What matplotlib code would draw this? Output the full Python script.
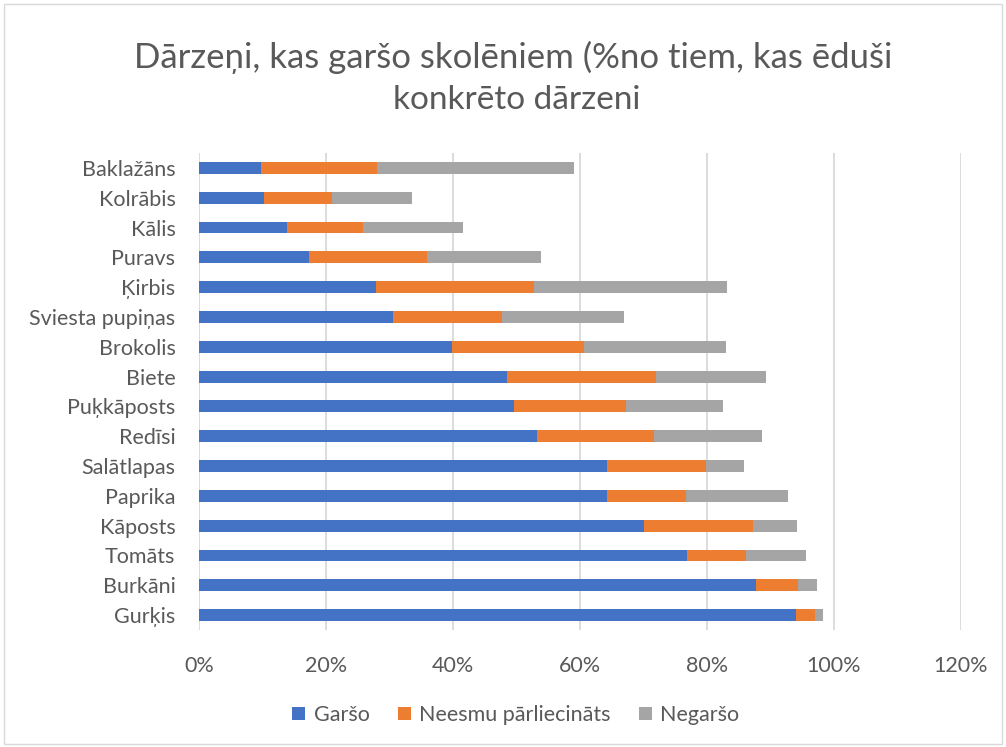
import numpy as np
import matplotlib.pyplot as plt
from matplotlib.patches import Rectangle

categories = ['Baklažāns', 'Kolrābis', 'Kālis', 'Puravs', 'Ķirbis', 'Sviesta pupiņas',
              'Brokolis', 'Biete', 'Puķkāposts', 'Redīsi', 'Salātlapas', 'Paprika',
              'Kāposts', 'Tomāts', 'Burkāni', 'Gurķis']
garso = [9.8, 10.3, 13.9, 17.3, 27.9, 30.6, 39.8, 48.5, 49.6, 53.2, 64.2, 64.2, 70.1, 76.9, 87.7, 94.0]
neesmu = [18.2, 10.7, 11.9, 18.6, 24.9, 17.1, 20.9, 23.5, 17.7, 18.4, 15.6, 12.5, 17.1, 9.3, 6.6, 3.0]
negarso = [31.1, 12.6, 15.7, 18.0, 30.3, 19.2, 22.3, 17.3, 15.2, 17.0, 6.0, 16.1, 7.0, 9.4, 3.0, 1.2]
series_names = ['Garšo', 'Neesmu pārliecināts', 'Negaršo']
colors = ['#4472c4', '#ed7d31', '#a5a5a5']
ticks = [0, 20, 40, 60, 80, 100, 120]

plt.rcParams['font.family'] = ['Lato', 'DejaVu Sans']

fig = plt.figure(figsize=(10.06, 7.47), dpi=100)
ax = fig.add_axes([199 / 1006, 1 - 630 / 747, (961 - 199) / 1006, (630 - 153) / 747])

y = np.arange(len(categories))
left = np.zeros(len(categories))
for name, vals, c in zip(series_names, [garso, neesmu, negarso], colors):
    ax.barh(y, vals, left=left, height=0.4, color=c, label=name, zorder=3)
    left = left + np.array(vals)

ax.set_ylim(len(categories) - 0.5, -0.5)
ax.set_xlim(0, 120)
ax.set_xticks(ticks)
ax.set_xticklabels([f'{t}%' for t in ticks])
ax.set_yticks(y)
ax.set_yticklabels(categories)
ax.tick_params(axis='both', length=0, colors='#595959', labelsize=15.5)
ax.tick_params(axis='x', pad=19)
ax.tick_params(axis='y', pad=17)
for lbl in ax.get_yticklabels():
    lbl.set_va('center_baseline')
for s in ax.spines.values():
    s.set_visible(False)
ax.grid(axis='x', color='#d9d9d9', linewidth=1.3, zorder=0)

fig.text(513 / 1006, 1 - 57 / 747, 'Dārzeņi, kas garšo skolēniem (%no tiem, kas ēduši',
         ha='center', va='center', fontsize=25, color='#595959')
fig.text(517 / 1006, 1 - 100 / 747, 'konkrēto dārzeni',
         ha='center', va='center', fontsize=24, color='#595959')

fig.legend(loc='center', bbox_to_anchor=(516 / 1006, 1 - 715 / 747), ncol=3, frameon=False,
           fontsize=15.5, labelcolor='#595959', handlelength=0.6, handleheight=0.6,
           columnspacing=1.3, handletextpad=0.4)

fig.patches.append(Rectangle((0.004, 0.004), 0.992, 0.99, transform=fig.transFigure,
                             fill=False, edgecolor='#d9d9d9', linewidth=1))

fig.savefig('out.png', dpi=100)
